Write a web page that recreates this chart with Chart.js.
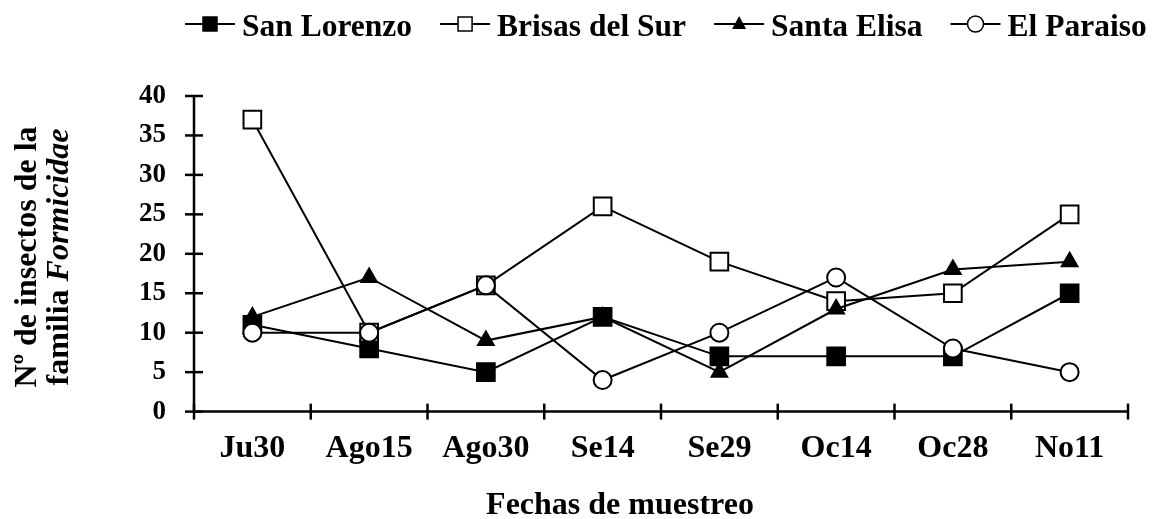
<!DOCTYPE html>
<html>
<head>
<meta charset="utf-8">
<script src="https://cdn.jsdelivr.net/npm/chart.js@4"></script>
<style>
  html, body { margin: 0; padding: 0; background: #fff; }
  #wrap { width: 1161px; height: 519px; position: relative; }
</style>
</head>
<body>
<div id="wrap"><canvas id="grafico" width="1161" height="519"></canvas></div>
<script>
// datos
const fechas = ["Ju30", "Ago15", "Ago30", "Se14", "Se29", "Oc14", "Oc28", "No11"];
const sanLorenzo = [11, 8, 5, 12, 7, 7, 7, 15];
const brisasDelSur = [37, 10, 16, 26, 19, 14, 15, 25];
const santaElisa = [12, 17, 9, 12, 5, 13, 18, 19];
const elParaiso = [10, 10, 16, 4, 10, 17, 8, 5];
const ticksY = [0, 5, 10, 15, 20, 25, 30, 35, 40];

const fuente = "'Liberation Serif', 'Times New Roman', serif";

function serie(nombre, datos, estilo, relleno, radio, orden) {
    return {
        label: nombre,
        data: datos,
        borderColor: '#000',
        borderWidth: 2,
        pointStyle: estilo,
        pointRadius: radio,
        pointBackgroundColor: relleno,
        pointBorderColor: '#000',
        pointBorderWidth: 2,
        tension: 0,
        fill: false,
        order: orden // el ultimo de la leyenda queda encima
    };
}

const datasets = [
    serie('San Lorenzo', sanLorenzo, 'rect', '#000', 12.5, 4),
    serie('Brisas del Sur', brisasDelSur, 'rect', '#fff', 12.5, 3),
    serie('Santa Elisa', santaElisa, 'triangle', '#000', 9, 2),
    serie('El Paraiso', elParaiso, 'circle', '#fff', 9, 1)
];

// marcador pequeño para la leyenda
function marcador(ctx, estilo, relleno, cx, cy) {
    ctx.fillStyle = relleno;
    ctx.strokeStyle = '#000';
    ctx.lineWidth = 1.5;
    if (estilo === 'rect') {
        ctx.fillRect(cx - 7, cy - 7, 14, 14);
        ctx.strokeRect(cx - 7, cy - 7, 14, 14);
    } else if (estilo === 'triangle') {
        ctx.beginPath();
        ctx.moveTo(cx, cy - 8); ctx.lineTo(cx + 7, cy + 5); ctx.lineTo(cx - 7, cy + 5);
        ctx.closePath(); ctx.fill();
    } else {
        ctx.beginPath(); ctx.arc(cx, cy, 8, 0, Math.PI * 2); ctx.fill(); ctx.stroke();
    }
}

// ejes con marcas que cruzan la linea, titulos y leyenda
const ejesPlugin = {
    id: 'ejes',
    afterDatasetsDraw(chart) {
        const ctx = chart.ctx;
        const x = chart.scales.x, y = chart.scales.y;
        const a = chart.chartArea;
        ctx.save();
        ctx.strokeStyle = '#000';
        ctx.lineWidth = 2.5;
        ctx.beginPath();
        ctx.moveTo(a.left, a.top - 1); ctx.lineTo(a.left, a.bottom);
        ctx.lineTo(a.right, a.bottom);
        ctx.stroke();
        ticksY.forEach(v => {
            const py = y.getPixelForValue(v);
            ctx.beginPath(); ctx.moveTo(a.left - 9, py); ctx.lineTo(a.left + 9, py); ctx.stroke();
        });
        const paso = x.getPixelForValue(1) - x.getPixelForValue(0);
        for (let i = 0; i <= fechas.length; i++) {
            const px = x.getPixelForValue(0) + (i - 0.5) * paso;
            ctx.beginPath(); ctx.moveTo(px, a.bottom - 8); ctx.lineTo(px, a.bottom + 8); ctx.stroke();
        }

        ctx.fillStyle = '#000';
        ctx.textBaseline = 'alphabetic';

        // titulo X
        ctx.textAlign = 'center';
        ctx.font = "bold 32px " + fuente;
        ctx.fillText('Fechas de muestreo', 620, 514);

        // leyenda
        ctx.textAlign = 'left';
        ctx.font = "bold 31.5px " + fuente;
        let lx = 185;
        chart.data.datasets.forEach(ds => {
            ctx.strokeStyle = '#000';
            ctx.lineWidth = 2;
            ctx.beginPath(); ctx.moveTo(lx, 24); ctx.lineTo(lx + 50, 24); ctx.stroke();
            marcador(ctx, ds.pointStyle, ds.pointBackgroundColor, lx + 25, 24);
            ctx.fillStyle = '#000';
            ctx.fillText(ds.label, lx + 57, 36);
            lx += 57 + ctx.measureText(ds.label).width + 28;
        });

        // titulo Y en dos lineas, con Formicidae en cursiva
        ctx.translate(0, 257);
        ctx.rotate(-Math.PI / 2);
        ctx.textAlign = 'center';
        ctx.font = "bold 32px " + fuente;
        ctx.fillText('Nº de insectos de la', 0, 36);
        const t1 = 'familia ';
        const t2 = 'Formicidae';
        ctx.font = "bold 32px " + fuente;
        const w1 = ctx.measureText(t1).width;
        ctx.font = "italic bold 32px " + fuente;
        const w2 = ctx.measureText(t2).width;
        ctx.textAlign = 'left';
        ctx.font = "bold 32px " + fuente;
        ctx.fillText(t1, -(w1 + w2) / 2, 68);
        ctx.font = "italic bold 32px " + fuente;
        ctx.fillText(t2, -(w1 + w2) / 2 + w1, 68);
        ctx.restore();
    }
};

const grafico = new Chart(document.getElementById('grafico').getContext('2d'), {
    type: 'line',
    data: { labels: fechas, datasets: datasets },
    options: {
        responsive: false,
        animation: false,
        events: [],
        layout: { padding: { left: 111, right: 33, top: 96, bottom: 33 } },
        plugins: {
            tooltip: { enabled: false },
            legend: { display: false }
        },
        scales: {
            x: {
                offset: true,
                grid: { display: false, drawTicks: false },
                border: { display: false },
                ticks: { color: '#000', padding: 18, font: { family: fuente, size: 32, weight: 'bold' } }
            },
            y: {
                min: 0,
                max: 40,
                afterBuildTicks(scale) { scale.ticks = ticksY.map(v => ({ value: v })); },
                grid: { display: false, drawTicks: false },
                border: { display: false },
                ticks: { color: '#000', padding: 28, font: { family: fuente, size: 27, weight: 'bold' } }
            }
        }
    },
    plugins: [ejesPlugin]
});
</script>
</body>
</html>
